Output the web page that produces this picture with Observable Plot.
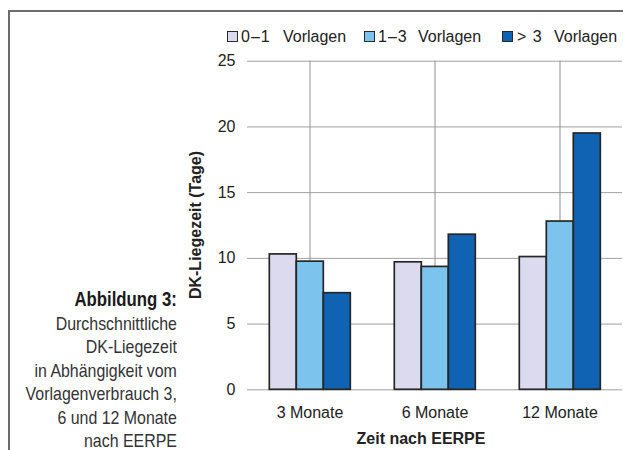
<!DOCTYPE html>
<html><head><meta charset="utf-8">
<script src="https://cdn.jsdelivr.net/npm/d3@7"></script>
<script src="https://cdn.jsdelivr.net/npm/@observablehq/plot@0.6"></script>
<style>
html,body{margin:0;padding:0;background:#fff;overflow:hidden;}
#wrap{position:relative;width:623px;height:450px;overflow:hidden;font-family:"Liberation Sans",Arial,sans-serif;color:#222;}
#wrap svg{position:absolute;left:0;top:0;}
.frame{position:absolute;left:8px;top:10px;width:700px;height:500px;border-left:2px solid #6b6b6b;border-top:2px solid #6b6b6b;}
.ylab{position:absolute;font-weight:bold;font-size:16px;white-space:nowrap;transform:translate(-50%,-50%) rotate(-90deg);}
.xlab{position:absolute;font-weight:bold;font-size:16px;white-space:nowrap;transform:translate(-50%,-50%);}
.sw{position:absolute;top:31px;width:9px;height:9px;border:1.5px solid #2a2a2a;}
.lt{position:absolute;top:27px;line-height:19px;font-size:16px;white-space:pre;color:#222;}
.ln{letter-spacing:1px;}
.cap{position:absolute;right:446px;top:288px;text-align:right;font-family:"Liberation Sans",Arial,sans-serif;font-size:18.5px;line-height:23.5px;color:#333;white-space:nowrap;transform:scaleX(0.86);transform-origin:right top;}
.cap b{color:#1a1a1a;font-size:19.5px;}
</style></head><body><div id="wrap"><div class="frame"></div></div>
<script>
const categories = ["3 Monate", "6 Monate", "12 Monate"];
const series = ["0–1 Vorlagen", "1–3 Vorlagen", "> 3 Vorlagen"];
const legendNums = ["0–1", "1–3", "> 3"];
const legendWord = "Vorlagen";
const values01 = [10.3, 9.7, 10.1];
const values13 = [9.75, 9.35, 12.8];
const values3p = [7.35, 11.8, 19.5];
const colors = ["#dcdaee", "#7cc4ee", "#1062b2"];
const yTicks = [0, 5, 10, 15, 20, 25];
const xLabel = "Zeit nach EERPE";
const yLabel = "DK-Liegezeit (Tage)";
const captionTitle = "Abbildung 3:";
const captionLines = ["Durchschnittliche", "DK-Liegezeit", "in Abhängigkeit vom", "Vorlagenverbrauch 3,", "6 und 12 Monate", "nach EERPE"];

const seriesValues = [values01, values13, values3p];
const rows = categories.flatMap((c, i) => series.map((s, j) => ({cat: c, series: s, value: seriesValues[j][i]})));

const chart = Plot.plot({
  width: 623, height: 450,
  marginTop: 60.7, marginBottom: 60.7, marginLeft: 246.7, marginRight: 1.3,
  style: {fontFamily: "'Liberation Sans', Arial, sans-serif", fontSize: "16px", color: "#222", background: "transparent"},
  fx: {domain: categories, padding: 0, label: null},
  x: {domain: series, axis: null, paddingInner: 0, paddingOuter: 0.74},
  y: {domain: [0, 25], label: null},
  color: {domain: series, range: colors},
  marks: [
    Plot.gridY(yTicks, {stroke: "#a0a0a0", strokeOpacity: 1, strokeWidth: 1}),
    Plot.gridFx({stroke: "#909090", strokeOpacity: 1, strokeWidth: 1}),
    Plot.barY(rows, {fx: "cat", x: "series", y: "value", fill: "series", stroke: "#262626", strokeWidth: 1.7}),
    Plot.axisY(yTicks, {tickSize: 0, tickPadding: 12, label: null, fontSize: 16, fill: "#222"}),
    Plot.axisFx({anchor: "bottom", tickSize: 0, tickPadding: 17, label: null, fontSize: 16, fill: "#222"})
  ]
});
const wrap = document.getElementById("wrap");
wrap.appendChild(chart);

const yl = document.createElement("div");
yl.className = "ylab"; yl.textContent = yLabel;
yl.style.left = "196px"; yl.style.top = "225px";
wrap.appendChild(yl);

const xl = document.createElement("div");
xl.className = "xlab"; xl.textContent = xLabel;
xl.style.left = "421px"; xl.style.top = "439px";
wrap.appendChild(xl);

const swLefts = [227, 364, 502];
const numLefts = [241, 378, 517];
const wordLefts = [283, 418, 554];
series.forEach((s, i) => {
  const sw = document.createElement("div");
  sw.className = "sw"; sw.style.background = colors[i]; sw.style.left = swLefts[i] + "px";
  const n = document.createElement("div");
  n.className = "lt ln"; n.textContent = legendNums[i]; n.style.left = numLefts[i] + "px";
  const w = document.createElement("div");
  w.className = "lt"; w.textContent = legendWord; w.style.left = wordLefts[i] + "px";
  wrap.appendChild(sw); wrap.appendChild(n); wrap.appendChild(w);
});

const cap = document.createElement("div");
cap.className = "cap";
cap.innerHTML = "<b>" + captionTitle + "</b><br>" + captionLines.join("<br>");
wrap.appendChild(cap);
</script></body></html>
